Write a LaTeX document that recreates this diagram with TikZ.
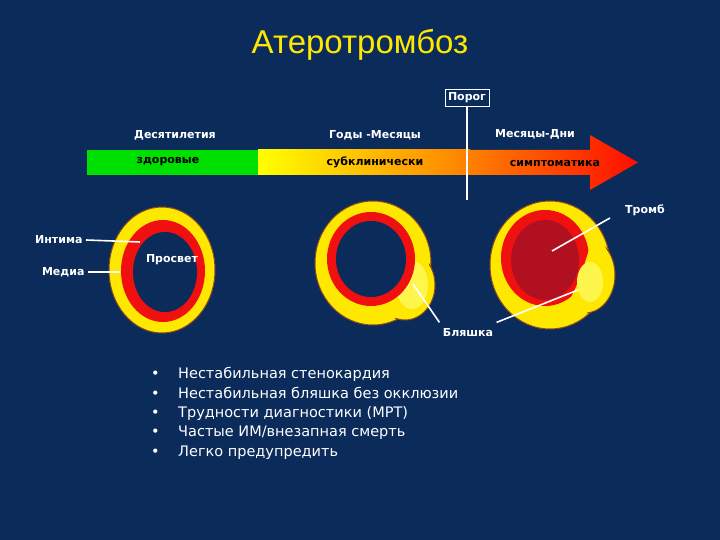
\documentclass[tikz,border=0pt]{standalone}
\usepackage{fontspec}
\setmainfont{DejaVu Sans}
\newfontfamily\titlefont{Liberation Sans}
\begin{document}
\begin{tikzpicture}[x=1pt,y=-1pt,
  lbl/.style={text=white,font=\bfseries\fontsize{11}{13}\selectfont},
  barlbl/.style={text=black,font=\bfseries\fontsize{11}{13}\selectfont},
  wl/.style={draw=white,line width=1.6pt},
  item/.style={text=white,anchor=base west,font=\fontsize{14.5}{17}\selectfont,inner sep=0}]
\definecolor{bg}{HTML}{0B2B5B}
\definecolor{ylw}{HTML}{FFE800}
\definecolor{rd}{HTML}{F01010}
\definecolor{drd}{HTML}{B01020}
\definecolor{brn}{HTML}{8A4A20}
\fill[bg] (0,0) rectangle (720,540);
\useasboundingbox (0,0) rectangle (720,540);
\node[text=ylw,font=\titlefont\fontsize{33}{38}\selectfont] (title) at (360,45) {Атеротромбоз};
% bar
\fill[green!80!black!60!green] (87,150) rectangle (258,175);
\fill[left color=yellow,right color=orange] (258,150) rectangle (470,175);
\shade[left color=orange,right color=red!90!orange] (470,150) -- (590,150) -- (590,135) -- (638,162.5) -- (590,190) -- (590,175) -- (470,175) -- cycle;
\node[barlbl] (b1) at (168,162) {здоровые};
\node[barlbl] (b2) at (375,162) {субклинически};
\node[barlbl] (b3) at (555,163) {симптоматика};
\node[lbl] (t1) at (175,135) {Десятилетия};
\node[lbl] (t2) at (375,135) {Годы -Месяцы};
\node[lbl] (t3) at (535,134) {Месяцы-Дни};
\node[lbl,draw=white,line width=0.8pt,inner sep=3pt] (porog) at (467,98) {Порог};
\coordinate (pl) at (467,200);
\draw[wl] (porog.south) -- (pl);
% circle 1
\fill[ylw,draw=brn,line width=1pt] (162,270) ellipse (53 and 63);
\fill[rd] (163,271) ellipse (42 and 51);
\fill[bg] (165,272) ellipse (32 and 40);
% circle 2
\fill[ylw,draw=brn,line width=1pt] (373,263) ellipse (58 and 62);
\fill[ylw,draw=brn,line width=1pt] (405,285) ellipse (30 and 35);
\fill[ylw] (373,263) ellipse (56 and 60);
\fill[yellow!70!white] (412,285) ellipse (16 and 24);
\fill[rd] (371,259) ellipse (44 and 47);
\fill[bg] (371,259) ellipse (35 and 38);
% circle 3
\fill[ylw,draw=brn,line width=1pt] (550,265) ellipse (60 and 64);
\fill[ylw,draw=brn,line width=1pt] (585,275) ellipse (30 and 38);
\fill[ylw] (550,265) ellipse (58 and 62);
\fill[rd] (545,258) ellipse (44 and 48);
\fill[drd] (545,260) ellipse (34 and 40);
\fill[ylw] (594,232) .. controls (585,265) and (575,295) .. (565,306) .. controls (598,300) and (606,262) .. (594,232);
\fill[yellow!70!white] (590,282) ellipse (13 and 20);
% labels
\node[lbl,anchor=east] (intima) at (86,240) {Интима};
\node[lbl,anchor=east] (media) at (88,272) {Медиа};
\coordinate (ie) at (140,242);
\coordinate (me) at (120,272);
\draw[wl] (intima.east) -- (ie);
\draw[wl] (media.east) -- (me);
\node[lbl] (prosvet) at (172,260) {Просвет};
\node[lbl] (tromb) at (645,210) {Тромб};
\coordinate (te) at (552,251);
\draw[wl] (610,218) -- (te);
\node[lbl] (plaque) at (468,333) {Бляшка};
\coordinate (p1) at (413,284);
\coordinate (p2) at (578,290);
\draw[wl] (plaque.north west) ++(0,-3) -- (p1);
\draw[wl] (plaque.north east) ++(0,-3) -- (p2);
% bullets
\foreach \y/\t in {378/{Нестабильная стенокардия},398/{Нестабильная бляшка без окклюзии},417/{Трудности диагностики (МРТ)},436/{Частые ИМ/внезапная смерть},456/{Легко предупредить}}{
  \node[item] at (178,\y) {\t};
  \node[item] at (151,\y) {•};
}
\end{tikzpicture}
\end{document}
